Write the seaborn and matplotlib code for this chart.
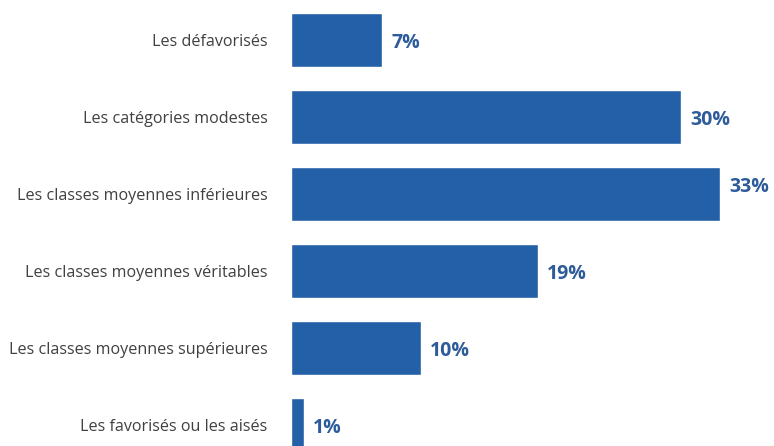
import matplotlib
matplotlib.use("Agg")
import matplotlib.pyplot as plt
import seaborn as sns
import pandas as pd

categories = [
    "Les défavorisés",
    "Les catégories modestes",
    "Les classes moyennes inférieures",
    "Les classes moyennes véritables",
    "Les classes moyennes supérieures",
    "Les favorisés ou les aisés",
]
values = [7, 30, 33, 19, 10, 1]
value_labels = ["7%", "30%", "33%", "19%", "10%", "1%"]

df = pd.DataFrame({"cat": categories, "val": values})

sns.set_theme(style="white")
plt.rcParams["font.family"] = ["Open Sans", "DejaVu Sans"]

W, H = 774, 446
fig = plt.figure(figsize=(W / 100, H / 100), dpi=100)
ax = fig.add_axes([291 / W, 0, 1 - 291 / W, 1])

bar_color = "#2360A8"
sns.barplot(data=df, y="cat", x="val", orient="h", color=bar_color,
            saturation=1, width=0.69, ax=ax)

ax.set_xlim(0, 483 / 13)
ax.set_ylim((446 - 40) / 77, -40 / 77)
ax.set_xlabel("")
ax.set_ylabel("")
ax.set_xticks([])
for s in ax.spines.values():
    s.set_visible(False)
ax.tick_params(axis="y", length=0, pad=17, labelsize=11.6, labelcolor="#404040")

for i, (v, lab) in enumerate(zip(values, value_labels)):
    dy = 5 if v >= 33 else -2
    ax.annotate(lab, xy=(v, i), xytext=(6.5, dy), textcoords="offset points",
                ha="left", va="center", fontsize=14, fontweight="bold",
                color="#2E5C9A")

fig.savefig("out.png", dpi=100)
